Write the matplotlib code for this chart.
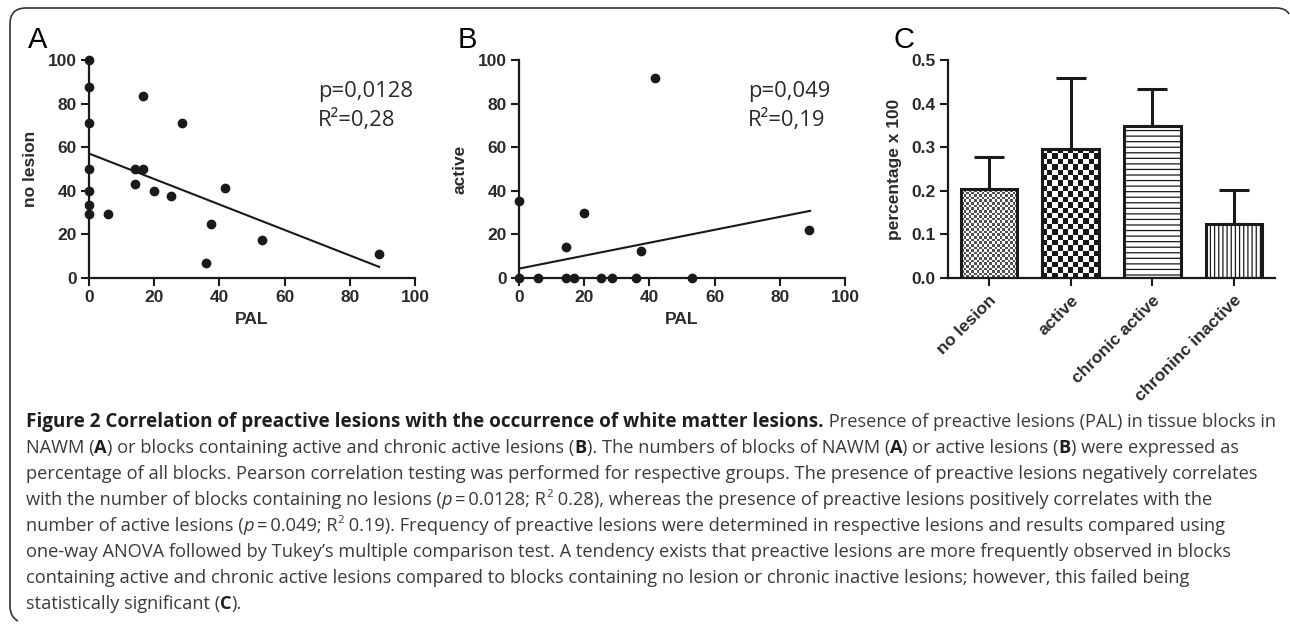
import numpy as np
import matplotlib
matplotlib.use("Agg")
import matplotlib.pyplot as plt
from matplotlib.patches import PathPatch
from matplotlib.path import Path

# panel A: PAL (%) vs blocks without lesion (%)
pal_a = [0, 0, 0, 0, 0, 0, 0, 5.7, 14.2, 14.2, 16.7, 16.7, 19.9, 25.0, 28.6, 35.8, 37.4, 41.7, 53.0, 89.0]
no_lesion = [100, 87.4, 71.2, 49.9, 40.0, 33.4, 29.4, 29.4, 49.9, 42.9, 83.3, 49.9, 40.0, 37.4, 71.2, 6.9, 25.0, 41.5, 17.5, 10.9]
fit_a_x = [0, 89.0]
fit_a_y = [57.1, 5.1]

# panel B: PAL (%) vs blocks with active lesions (%)
pal_b = [0, 0, 5.9, 14.3, 14.3, 16.8, 20.0, 25.1, 28.6, 35.9, 37.5, 41.8, 53.1, 89.1]
active = [35.2, 0, 0, 0, 14.1, 0, 29.9, 0, 0, 0, 12.4, 91.6, 0, 21.9]
fit_b_x = [0, 89.3]
fit_b_y = [4.3, 30.8]

# panel C: frequency of PAL per lesion type
groups = ["no lesion", "active", "chronic active", "chroninc inactive"]
freq = [0.204, 0.297, 0.348, 0.125]
freq_err = [0.074, 0.162, 0.085, 0.077]

stats_a = ["p=0,0128", "R\u00b2=0,28"]
stats_b = ["p=0,049", "R\u00b2=0,19"]

# caption: list of lines, each a list of (text, style)
caption = [
    [("Figure 2 Correlation of preactive lesions with the occurrence of white matter lesions.", "b"),
     (" Presence of preactive lesions (PAL) in tissue blocks in", "r")],
    [("NAWM (", "r"), ("A", "b"), (") or blocks containing active and chronic active lesions (", "r"), ("B", "b"),
     ("). The numbers of blocks of NAWM (", "r"), ("A", "b"), (") or active lesions (", "r"), ("B", "b"),
     (") were expressed as", "r")],
    [("percentage of all blocks. Pearson correlation testing was performed for respective groups. The presence of preactive lesions negatively correlates", "r")],
    [("with the number of blocks containing no lesions (", "r"), ("p", "i"), ("\u2009=\u20090.0128; R", "r"), ("2", "sup"),
     (" 0.28), whereas the presence of preactive lesions positively correlates with the", "r")],
    [("number of active lesions (", "r"), ("p", "i"), ("\u2009=\u20090.049; R", "r"), ("2", "sup"),
     (" 0.19). Frequency of preactive lesions were determined in respective lesions and results compared using", "r")],
    [("one-way ANOVA followed by Tukey\u2019s multiple comparison test. A tendency exists that preactive lesions are more frequently observed in blocks", "r")],
    [("containing active and chronic active lesions compared to blocks containing no lesion or chronic inactive lesions; however, this failed being", "r")],
    [("statistically significant (", "r"), ("C", "b"), (").", "r")],
]

W, H = 1290, 625
plt.rcParams["font.family"] = ["Liberation Sans", "DejaVu Sans"]
plt.rcParams["hatch.linewidth"] = 0.9
fig = plt.figure(figsize=(W / 100, H / 100), dpi=100)
renderer = fig.canvas.get_renderer()
ink = "#1a1a1a"
txt = "#2b2b2b"


def fx(x):
    return x / W


def fy(y):
    return 1 - y / H


def style_axes(ax):
    for s in ["top", "right"]:
        ax.spines[s].set_visible(False)
    for s in ["left", "bottom"]:
        ax.spines[s].set_linewidth(1.6)
        ax.spines[s].set_color(ink)
    ax.tick_params(direction="out", length=5.5, width=1.5, color=ink, labelcolor=txt, labelsize=12.5)
    for lab in ax.get_xticklabels() + ax.get_yticklabels():
        lab.set_fontweight("bold")


def scatter_panel(left, xs, ys, fit_x, fit_y, ylabel, letter, stats):
    ax = fig.add_axes([fx(left), fy(278), 326 / W, 218 / H])
    ax.plot(xs, ys, "o", ms=6, color=ink, clip_on=False, zorder=3)
    ax.plot(fit_x, fit_y, "-", color=ink, lw=1.5, zorder=2)
    ax.set_xlim(0, 100)
    ax.set_ylim(0, 100)
    ax.set_xticks([0, 20, 40, 60, 80, 100])
    ax.set_yticks([0, 20, 40, 60, 80, 100])
    style_axes(ax)
    ax.set_xlabel("PAL", fontsize=12.5, fontweight="bold", color=txt, labelpad=5)
    ax.set_ylabel(ylabel, fontsize=12.5, fontweight="bold", color=txt, labelpad=7)
    fig.text(fx(left - 61), fy(48), letter, fontsize=21, color="black", va="baseline")
    for k, s in enumerate(stats):
        fig.text(fx(left + 229), fy(97 + 29 * k), s, fontsize=15.8, family=["Open Sans", "DejaVu Sans"],
                 color=txt, va="baseline")
    return ax


scatter_panel(89, pal_a, no_lesion, fit_a_x, fit_a_y, "no lesion", "A", stats_a)
scatter_panel(519, pal_b, active, fit_b_x, fit_b_y, "active", "B", stats_b)

# panel C
axc = fig.add_axes([fx(948), fy(278), 327 / W, 218 / H])
xpos = np.arange(len(groups))
axc.set_xlim(-0.5, len(groups) - 0.5)
axc.set_ylim(0, 0.5)
bars = axc.bar(xpos, freq, width=0.69, facecolor="white", edgecolor=ink, linewidth=2.2, zorder=2)
bars[0].set_facecolor("none")
bars[1].set_facecolor("none")
bars[2].set_hatch("---")
bars[3].set_hatch("||||")


def checker(bar, cell_px, dark):
    bb = bar.get_window_extent()
    nx = max(1, int(round(bb.width / cell_px)))
    ny = max(1, int(round(bb.height / cell_px)))
    pat = (np.indices((ny, nx)).sum(axis=0) % 2) * dark
    x0, w, h = bar.get_x(), bar.get_width(), bar.get_height()
    im = axc.imshow(pat, cmap="Greys", vmin=0, vmax=1, extent=(x0, x0 + w, 0, h), aspect="auto",
                    interpolation="nearest", zorder=1)
    im.set_clip_path(bar)


checker(bars[0], 2.6, 0.75)
checker(bars[1], 5.3, 0.92)
axc.set_xlim(-0.5, len(groups) - 0.5)
axc.set_ylim(0, 0.5)
axc.errorbar(xpos, freq, yerr=[np.zeros(len(freq)), freq_err], fmt="none", ecolor=ink, elinewidth=2.2,
             capsize=10.8, capthick=2.2, zorder=1.5)
axc.set_xticks(xpos)
axc.set_xticklabels(groups, rotation=45, ha="right", rotation_mode="anchor")
axc.set_yticks([0, 0.1, 0.2, 0.3, 0.4, 0.5])
axc.set_yticklabels(["0.0", "0.1", "0.2", "0.3", "0.4", "0.5"])
style_axes(axc)
axc.tick_params(axis="x", pad=5)
axc.set_ylabel("percentage x 100", fontsize=12.5, fontweight="bold", color=txt, labelpad=7)
fig.text(fx(893), fy(48), "C", fontsize=21, color="black", va="baseline")

# frame around the figure (pixel coords, y down)
frame = [(18, 621), (10, 617), (10, 606), (10, 24), (10, 8), (26, 8), (1276, 8), (1286, 8), (1289, 14)]
codes = [Path.MOVETO, Path.CURVE3, Path.CURVE3, Path.LINETO, Path.CURVE3, Path.CURVE3,
         Path.LINETO, Path.CURVE3, Path.CURVE3]
fig.add_artist(PathPatch(Path([(fx(x), fy(y)) for x, y in frame], codes), transform=fig.transFigure,
                         facecolor="none", edgecolor="#333333", lw=1.2))

# caption
cap_family = ["Open Sans", "DejaVu Sans"]
styles = {"r": dict(fontweight="normal", fontstyle="normal", color="#3a3a3a"),
          "b": dict(fontweight="bold", fontstyle="normal", color="#1e1e1e"),
          "i": dict(fontweight="normal", fontstyle="italic", color="#3a3a3a"),
          "sup": dict(fontweight="normal", fontstyle="normal", color="#3a3a3a")}


def width_of(s, size, st):
    t = fig.text(0, 0, s, fontsize=size, family=cap_family, **styles[st])
    w = t.get_window_extent(renderer).width
    t.remove()
    return w


def seg_width(s, size, st):
    # width including leading/trailing spaces
    return width_of("|" + s + "|", size, st) - width_of("||", size, st)


left_px = 26.0
base = 11.0
# regular size: line 3 ends at x=1265; bold size: line 1 ends at x=1273
reg_size = base * (1265 - left_px) / seg_width(caption[2][0][0], base, "r")
bold_w = seg_width(caption[0][0][0], base, "b")
rest_w = seg_width(caption[0][1][0], reg_size, "r")
bold_size = base * (1273 - left_px - rest_w) / bold_w
em_px = reg_size * 100 / 72

for i, line in enumerate(caption):
    x = left_px
    y = 427 + 26 * i
    for s, st in line:
        size = {"r": reg_size, "i": reg_size, "b": bold_size if i == 0 else reg_size, "sup": reg_size * 0.62}[st]
        yy = y - (em_px * 0.42 if st == "sup" else 0)
        fig.text(fx(x), fy(yy), s, fontsize=size, family=cap_family, va="baseline", **styles[st])
        x += seg_width(s, size, st)

fig.savefig("out.png", dpi=100)
